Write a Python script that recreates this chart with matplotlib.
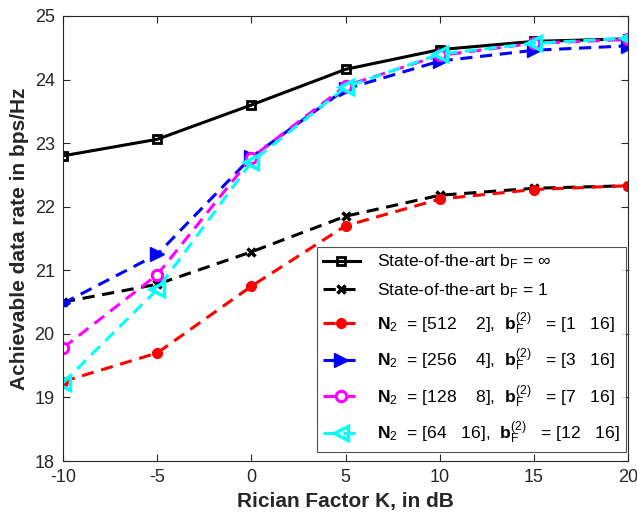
import matplotlib
matplotlib.use("Agg")
import matplotlib.pyplot as plt

plt.rcParams['font.family'] = ['Liberation Sans', 'DejaVu Sans']
plt.rcParams['mathtext.fontset'] = 'custom'
plt.rcParams['mathtext.rm'] = 'Liberation Sans'
plt.rcParams['mathtext.bf'] = 'Liberation Sans:bold'
plt.rcParams['mathtext.it'] = 'Liberation Sans:italic'
plt.rcParams['axes.unicode_minus'] = False

K_dB = [-10, -5, 0, 5, 10, 15, 20]
sota_inf = [22.80, 23.06, 23.60, 24.16, 24.47, 24.60, 24.64]
sota_1 = [20.50, 20.78, 21.29, 21.85, 22.18, 22.29, 22.33]
n2_512 = [19.25, 19.70, 20.75, 21.70, 22.12, 22.27, 22.33]
n2_256 = [20.48, 21.25, 22.78, 23.85, 24.29, 24.46, 24.53]
n2_128 = [19.78, 20.93, 22.77, 23.90, 24.38, 24.57, 24.63]
n2_64 = [19.23, 20.70, 22.70, 23.88, 24.40, 24.57, 24.65]

labels = [
    r"State-of-the-art b$_\mathrm{F}$ = $\infty$",
    r"State-of-the-art b$_\mathrm{F}$ = 1",
    r"$\mathbf{N}_{2}$  = [512    2],  $\mathbf{b}_\mathrm{F}^{(2)}$   = [1   16]",
    r"$\mathbf{N}_{2}$  = [256    4],  $\mathbf{b}_\mathrm{F}^{(2)}$   = [3   16]",
    r"$\mathbf{N}_{2}$  = [128    8],  $\mathbf{b}_\mathrm{F}^{(2)}$   = [7   16]",
    r"$\mathbf{N}_{2}$  = [64   16],  $\mathbf{b}_\mathrm{F}^{(2)}$   = [12   16]",
]

fig = plt.figure(figsize=(6.37, 5.14), dpi=100)
ax = fig.add_axes([0.099, 0.103, 0.887, 0.866])

lw = 2.2
ax.plot(K_dB, sota_inf, '-', color='black', lw=lw, marker='s', ms=5.5,
        mfc='none', mec='black', mew=2, label=labels[0])
ax.plot(K_dB, sota_1, '--', color='black', lw=lw, marker='x', ms=6,
        mec='black', mew=2.5, label=labels[1], dashes=(4, 2.5))
ax.plot(K_dB, n2_512, '--', color='#ff0000', lw=lw, marker='o', ms=7,
        mfc='#ff0000', mec='#ff0000', label=labels[2], dashes=(4, 2.5))
ax.plot(K_dB, n2_256, '--', color='#0000ff', lw=lw, marker='>', ms=10,
        mfc='#0000ff', mec='#0000ff', label=labels[3], dashes=(4, 2.5))
ax.plot(K_dB, n2_128, '--', color='#ff00ff', lw=lw, marker='o', ms=7.5,
        mfc='white', mec='#ff00ff', mew=2.2, label=labels[4], dashes=(4, 2.5))
ax.plot(K_dB, n2_64, '--', color='#00ffff', lw=lw, marker='<', ms=10,
        mfc='none', mec='#00ffff', mew=2.5, label=labels[5], dashes=(4, 2.5))

ax.set_xlim(-10, 20)
ax.set_ylim(18, 25)
ax.set_xticks([-10, -5, 0, 5, 10, 15, 20])
ax.set_yticks([18, 19, 20, 21, 22, 23, 24, 25])
ax.tick_params(direction='in', length=5, labelsize=13, colors='#262626',
               top=True, right=True, pad=6)
for s in ax.spines.values():
    s.set_color('#262626')
    s.set_linewidth(0.8)

ax.set_xlabel('Rician Factor K, in dB', fontsize=15, fontweight='bold',
              color='#262626')
ax.set_ylabel('Achievable data rate in bps/Hz', fontsize=15, fontweight='bold',
              color='#262626')

leg = ax.legend(loc='lower right', bbox_to_anchor=(0.996, 0.02), fontsize=12.6,
                frameon=True, fancybox=False, edgecolor='#262626',
                handlelength=2.1, labelspacing=0.58, borderpad=0.35,
                handletextpad=1.0, borderaxespad=0)
leg.get_frame().set_linewidth(0.8)

fig.savefig('out.png', dpi=100)
